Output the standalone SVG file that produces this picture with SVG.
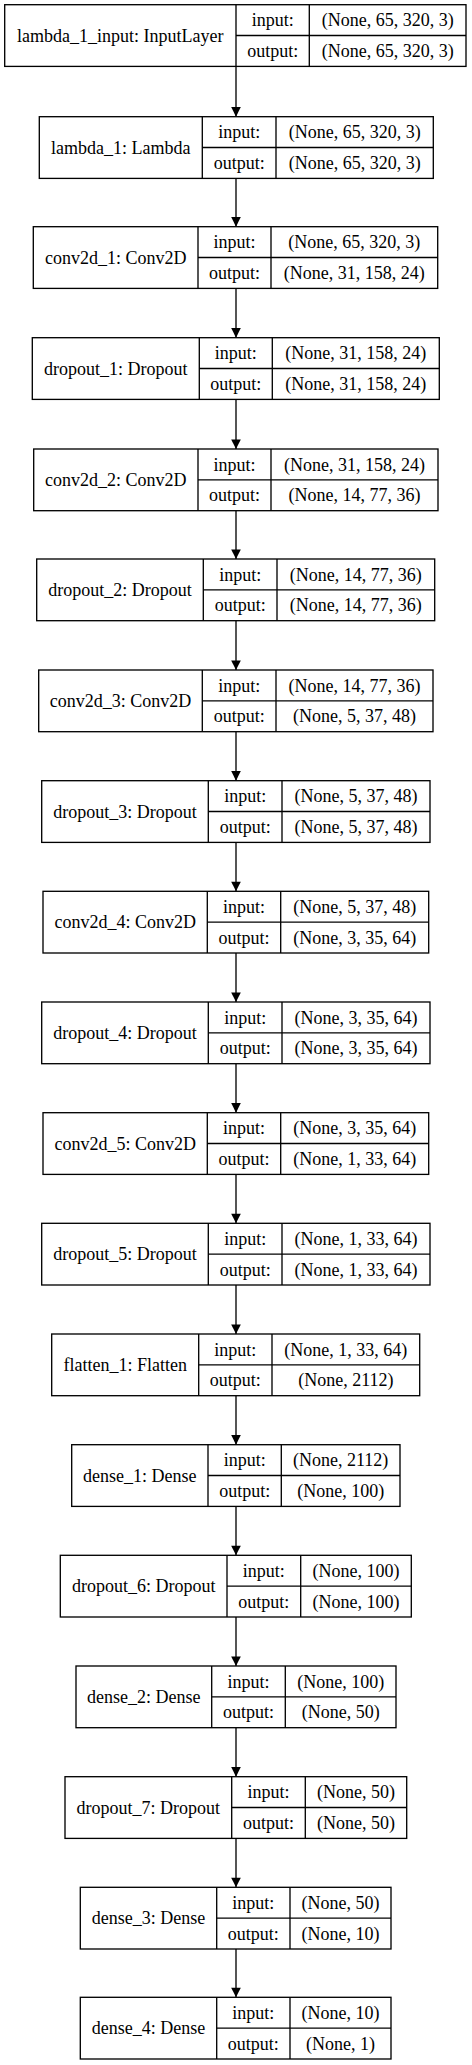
<svg xmlns="http://www.w3.org/2000/svg" width="472" height="2065" viewBox="0 0 472 2065">
<style>
rect{fill:#fff;stroke:#000;stroke-width:1.33}
.n line{stroke:#000;stroke-width:1.33}
text{font-family:"Liberation Serif","Times New Roman",serif;font-size:18px;fill:#000;text-anchor:middle}
.c path{stroke:#000;stroke-width:1.33;fill:none;marker-end:url(#arr)}
</style>
<defs>
<marker id="arr" viewBox="0 0 10 10" refX="10" refY="5" markerWidth="13.3" markerHeight="9.6" orient="auto" markerUnits="userSpaceOnUse">
<path d="M0,0 L10,5 L0,10 z" fill="#000"/>
</marker>
</defs>
<rect x="0" y="0" width="472" height="2065" style="stroke:none"/>
<g class="c" id="connectors">
<path d="M236,66.4 V116.7"/>
<path d="M236,178.4 V226.7"/>
<path d="M236,288.4 V337.7"/>
<path d="M236,399.4 V449"/>
<path d="M236,510.7 V559"/>
<path d="M236,620.7 V670"/>
<path d="M236,731.7 V780.7"/>
<path d="M236,842.4 V891.3"/>
<path d="M236,953 V1002"/>
<path d="M236,1063.7 V1112.7"/>
<path d="M236,1174.4 V1223.3"/>
<path d="M236,1285 V1334"/>
<path d="M236,1395.7 V1444.7"/>
<path d="M236,1506.4 V1555.3"/>
<path d="M236,1617 V1666"/>
<path d="M236,1727.7 V1776.7"/>
<path d="M236,1838.4 V1887.3"/>
<path d="M236,1949 V1997.3"/>
</g>
<g class="n" id="lambda_1_input" transform="translate(0,4.7)">
<rect x="4.7" y="0" width="461.3" height="61.7"/>
<line x1="236" y1="0" x2="236" y2="61.7"/><line x1="309.3" y1="0" x2="309.3" y2="61.7"/><line x1="236" y1="30.8" x2="466" y2="30.8"/>
<text x="120.35" y="36.9">lambda_1_input: InputLayer</text>
<text x="272.65" y="21.5">input:</text><text x="272.65" y="52.3">output:</text>
<text x="387.65" y="21.5">(None, 65, 320, 3)</text><text x="387.65" y="52.3">(None, 65, 320, 3)</text>
</g>
<g class="n" id="lambda_1" transform="translate(0,116.7)">
<rect x="39.3" y="0" width="394" height="61.7"/>
<line x1="202.3" y1="0" x2="202.3" y2="61.7"/><line x1="276" y1="0" x2="276" y2="61.7"/><line x1="202.3" y1="30.8" x2="433.3" y2="30.8"/>
<text x="120.8" y="36.9">lambda_1: Lambda</text>
<text x="239.15" y="21.5">input:</text><text x="239.15" y="52.3">output:</text>
<text x="354.65" y="21.5">(None, 65, 320, 3)</text><text x="354.65" y="52.3">(None, 65, 320, 3)</text>
</g>
<g class="n" id="conv2d_1" transform="translate(0,226.7)">
<rect x="33.3" y="0" width="404.4" height="61.7"/>
<line x1="198" y1="0" x2="198" y2="61.7"/><line x1="271" y1="0" x2="271" y2="61.7"/><line x1="198" y1="30.8" x2="437.7" y2="30.8"/>
<text x="115.65" y="36.9">conv2d_1: Conv2D</text>
<text x="234.5" y="21.5">input:</text><text x="234.5" y="52.3">output:</text>
<text x="354.35" y="21.5">(None, 65, 320, 3)</text><text x="354.35" y="52.3">(None, 31, 158, 24)</text>
</g>
<g class="n" id="dropout_1" transform="translate(0,337.7)">
<rect x="32.3" y="0" width="407" height="61.7"/>
<line x1="199.3" y1="0" x2="199.3" y2="61.7"/><line x1="272.3" y1="0" x2="272.3" y2="61.7"/><line x1="199.3" y1="30.8" x2="439.3" y2="30.8"/>
<text x="115.8" y="36.9">dropout_1: Dropout</text>
<text x="235.8" y="21.5">input:</text><text x="235.8" y="52.3">output:</text>
<text x="355.8" y="21.5">(None, 31, 158, 24)</text><text x="355.8" y="52.3">(None, 31, 158, 24)</text>
</g>
<g class="n" id="conv2d_2" transform="translate(0,449)">
<rect x="33.7" y="0" width="404.3" height="61.7"/>
<line x1="198" y1="0" x2="198" y2="61.7"/><line x1="271" y1="0" x2="271" y2="61.7"/><line x1="198" y1="30.8" x2="438" y2="30.8"/>
<text x="115.85" y="36.9">conv2d_2: Conv2D</text>
<text x="234.5" y="21.5">input:</text><text x="234.5" y="52.3">output:</text>
<text x="354.5" y="21.5">(None, 31, 158, 24)</text><text x="354.5" y="52.3">(None, 14, 77, 36)</text>
</g>
<g class="n" id="dropout_2" transform="translate(0,559)">
<rect x="36.7" y="0" width="398" height="61.7"/>
<line x1="203.3" y1="0" x2="203.3" y2="61.7"/><line x1="277" y1="0" x2="277" y2="61.7"/><line x1="203.3" y1="30.8" x2="434.7" y2="30.8"/>
<text x="120" y="36.9">dropout_2: Dropout</text>
<text x="240.15" y="21.5">input:</text><text x="240.15" y="52.3">output:</text>
<text x="355.85" y="21.5">(None, 14, 77, 36)</text><text x="355.85" y="52.3">(None, 14, 77, 36)</text>
</g>
<g class="n" id="conv2d_3" transform="translate(0,670)">
<rect x="38.7" y="0" width="394.3" height="61.7"/>
<line x1="202.3" y1="0" x2="202.3" y2="61.7"/><line x1="276" y1="0" x2="276" y2="61.7"/><line x1="202.3" y1="30.8" x2="433" y2="30.8"/>
<text x="120.5" y="36.9">conv2d_3: Conv2D</text>
<text x="239.15" y="21.5">input:</text><text x="239.15" y="52.3">output:</text>
<text x="354.5" y="21.5">(None, 14, 77, 36)</text><text x="354.5" y="52.3">(None, 5, 37, 48)</text>
</g>
<g class="n" id="dropout_3" transform="translate(0,780.7)">
<rect x="41.7" y="0" width="388.3" height="61.7"/>
<line x1="208.3" y1="0" x2="208.3" y2="61.7"/><line x1="282" y1="0" x2="282" y2="61.7"/><line x1="208.3" y1="30.8" x2="430" y2="30.8"/>
<text x="125" y="36.9">dropout_3: Dropout</text>
<text x="245.15" y="21.5">input:</text><text x="245.15" y="52.3">output:</text>
<text x="356" y="21.5">(None, 5, 37, 48)</text><text x="356" y="52.3">(None, 5, 37, 48)</text>
</g>
<g class="n" id="conv2d_4" transform="translate(0,891.3)">
<rect x="43" y="0" width="385.7" height="61.7"/>
<line x1="207.3" y1="0" x2="207.3" y2="61.7"/><line x1="280.7" y1="0" x2="280.7" y2="61.7"/><line x1="207.3" y1="30.8" x2="428.7" y2="30.8"/>
<text x="125.15" y="36.9">conv2d_4: Conv2D</text>
<text x="244" y="21.5">input:</text><text x="244" y="52.3">output:</text>
<text x="354.7" y="21.5">(None, 5, 37, 48)</text><text x="354.7" y="52.3">(None, 3, 35, 64)</text>
</g>
<g class="n" id="dropout_4" transform="translate(0,1002)">
<rect x="41.7" y="0" width="388.3" height="61.7"/>
<line x1="208.3" y1="0" x2="208.3" y2="61.7"/><line x1="282" y1="0" x2="282" y2="61.7"/><line x1="208.3" y1="30.8" x2="430" y2="30.8"/>
<text x="125" y="36.9">dropout_4: Dropout</text>
<text x="245.15" y="21.5">input:</text><text x="245.15" y="52.3">output:</text>
<text x="356" y="21.5">(None, 3, 35, 64)</text><text x="356" y="52.3">(None, 3, 35, 64)</text>
</g>
<g class="n" id="conv2d_5" transform="translate(0,1112.7)">
<rect x="43" y="0" width="385.7" height="61.7"/>
<line x1="207.3" y1="0" x2="207.3" y2="61.7"/><line x1="280.7" y1="0" x2="280.7" y2="61.7"/><line x1="207.3" y1="30.8" x2="428.7" y2="30.8"/>
<text x="125.15" y="36.9">conv2d_5: Conv2D</text>
<text x="244" y="21.5">input:</text><text x="244" y="52.3">output:</text>
<text x="354.7" y="21.5">(None, 3, 35, 64)</text><text x="354.7" y="52.3">(None, 1, 33, 64)</text>
</g>
<g class="n" id="dropout_5" transform="translate(0,1223.3)">
<rect x="41.7" y="0" width="388.3" height="61.7"/>
<line x1="208.3" y1="0" x2="208.3" y2="61.7"/><line x1="282" y1="0" x2="282" y2="61.7"/><line x1="208.3" y1="30.8" x2="430" y2="30.8"/>
<text x="125" y="36.9">dropout_5: Dropout</text>
<text x="245.15" y="21.5">input:</text><text x="245.15" y="52.3">output:</text>
<text x="356" y="21.5">(None, 1, 33, 64)</text><text x="356" y="52.3">(None, 1, 33, 64)</text>
</g>
<g class="n" id="flatten_1" transform="translate(0,1334)">
<rect x="51.7" y="0" width="368" height="61.7"/>
<line x1="198.7" y1="0" x2="198.7" y2="61.7"/><line x1="272" y1="0" x2="272" y2="61.7"/><line x1="198.7" y1="30.8" x2="419.7" y2="30.8"/>
<text x="125.2" y="36.9">flatten_1: Flatten</text>
<text x="235.35" y="21.5">input:</text><text x="235.35" y="52.3">output:</text>
<text x="345.85" y="21.5">(None, 1, 33, 64)</text><text x="345.85" y="52.3">(None, 2112)</text>
</g>
<g class="n" id="dense_1" transform="translate(0,1444.7)">
<rect x="71.7" y="0" width="328.3" height="61.7"/>
<line x1="208" y1="0" x2="208" y2="61.7"/><line x1="281.3" y1="0" x2="281.3" y2="61.7"/><line x1="208" y1="30.8" x2="400" y2="30.8"/>
<text x="139.85" y="36.9">dense_1: Dense</text>
<text x="244.65" y="21.5">input:</text><text x="244.65" y="52.3">output:</text>
<text x="340.65" y="21.5">(None, 2112)</text><text x="340.65" y="52.3">(None, 100)</text>
</g>
<g class="n" id="dropout_6" transform="translate(0,1555.3)">
<rect x="60.3" y="0" width="351" height="61.7"/>
<line x1="227" y1="0" x2="227" y2="61.7"/><line x1="300.7" y1="0" x2="300.7" y2="61.7"/><line x1="227" y1="30.8" x2="411.3" y2="30.8"/>
<text x="143.65" y="36.9">dropout_6: Dropout</text>
<text x="263.85" y="21.5">input:</text><text x="263.85" y="52.3">output:</text>
<text x="356" y="21.5">(None, 100)</text><text x="356" y="52.3">(None, 100)</text>
</g>
<g class="n" id="dense_2" transform="translate(0,1666)">
<rect x="76" y="0" width="320" height="61.7"/>
<line x1="211.7" y1="0" x2="211.7" y2="61.7"/><line x1="285.3" y1="0" x2="285.3" y2="61.7"/><line x1="211.7" y1="30.8" x2="396" y2="30.8"/>
<text x="143.85" y="36.9">dense_2: Dense</text>
<text x="248.5" y="21.5">input:</text><text x="248.5" y="52.3">output:</text>
<text x="340.65" y="21.5">(None, 100)</text><text x="340.65" y="52.3">(None, 50)</text>
</g>
<g class="n" id="dropout_7" transform="translate(0,1776.7)">
<rect x="65" y="0" width="341.7" height="61.7"/>
<line x1="231.7" y1="0" x2="231.7" y2="61.7"/><line x1="305.3" y1="0" x2="305.3" y2="61.7"/><line x1="231.7" y1="30.8" x2="406.7" y2="30.8"/>
<text x="148.35" y="36.9">dropout_7: Dropout</text>
<text x="268.5" y="21.5">input:</text><text x="268.5" y="52.3">output:</text>
<text x="356" y="21.5">(None, 50)</text><text x="356" y="52.3">(None, 50)</text>
</g>
<g class="n" id="dense_3" transform="translate(0,1887.3)">
<rect x="80.3" y="0" width="310.7" height="61.7"/>
<line x1="216.7" y1="0" x2="216.7" y2="61.7"/><line x1="290" y1="0" x2="290" y2="61.7"/><line x1="216.7" y1="30.8" x2="391" y2="30.8"/>
<text x="148.5" y="36.9">dense_3: Dense</text>
<text x="253.35" y="21.5">input:</text><text x="253.35" y="52.3">output:</text>
<text x="340.5" y="21.5">(None, 50)</text><text x="340.5" y="52.3">(None, 10)</text>
</g>
<g class="n" id="dense_4" transform="translate(0,1997.3)">
<rect x="80.3" y="0" width="310.7" height="61.7"/>
<line x1="216.7" y1="0" x2="216.7" y2="61.7"/><line x1="290" y1="0" x2="290" y2="61.7"/><line x1="216.7" y1="30.8" x2="391" y2="30.8"/>
<text x="148.5" y="36.9">dense_4: Dense</text>
<text x="253.35" y="21.5">input:</text><text x="253.35" y="52.3">output:</text>
<text x="340.5" y="21.5">(None, 10)</text><text x="340.5" y="52.3">(None, 1)</text>
</g>
</svg>
